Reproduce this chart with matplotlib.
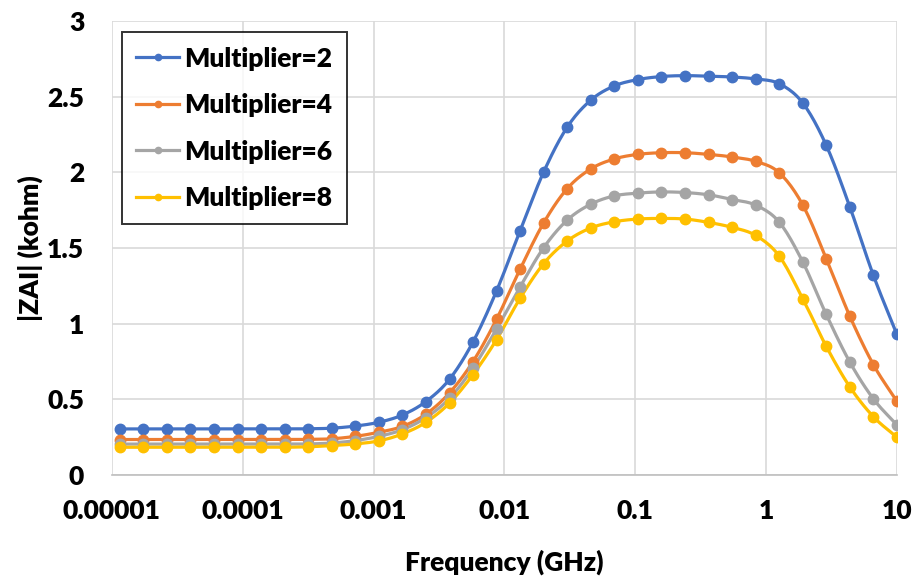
import numpy as np
import matplotlib
matplotlib.use("Agg")
import matplotlib.pyplot as plt
from matplotlib.ticker import FixedLocator, FixedFormatter, NullLocator

plt.rcParams['font.family'] = ['Lato', 'DejaVu Sans']
plt.rcParams['font.weight'] = 'heavy'

# frecuencias (GHz)
freq = [1.148e-5, 1.738e-5, 2.630e-5, 3.981e-5, 6.026e-5, 9.120e-5,
        1.380e-4, 2.089e-4, 3.162e-4, 4.786e-4, 7.244e-4,
        1.096e-3, 1.660e-3, 2.512e-3, 3.802e-3, 5.754e-3, 8.710e-3,
        0.01318, 0.01995, 0.0302, 0.0457, 0.0692,
        0.1047, 0.1585, 0.2399, 0.3631, 0.5495, 0.8318,
        1.259, 1.905, 2.884, 4.365, 6.607, 10.0]

m2 = [0.305, 0.305, 0.305, 0.305, 0.305, 0.305, 0.305, 0.305, 0.306, 0.310, 0.324,
      0.349, 0.397, 0.486, 0.633, 0.880, 1.217, 1.614, 2.002, 2.298, 2.476, 2.570,
      2.612, 2.632, 2.638, 2.634, 2.629, 2.616, 2.585, 2.458, 2.178, 1.772, 1.320, 0.929]
m4 = [0.235, 0.235, 0.235, 0.235, 0.235, 0.235, 0.235, 0.235, 0.236, 0.240, 0.256,
      0.283, 0.322, 0.403, 0.543, 0.750, 1.030, 1.360, 1.666, 1.892, 2.022, 2.088,
      2.118, 2.129, 2.129, 2.118, 2.101, 2.072, 1.997, 1.785, 1.430, 1.050, 0.730, 0.487]
m6 = [0.205, 0.205, 0.205, 0.205, 0.205, 0.205, 0.205, 0.205, 0.206, 0.212, 0.228,
      0.256, 0.300, 0.380, 0.507, 0.708, 0.965, 1.243, 1.502, 1.684, 1.789, 1.844,
      1.862, 1.870, 1.866, 1.851, 1.820, 1.783, 1.671, 1.409, 1.061, 0.747, 0.504, 0.331]
m8 = [0.184, 0.184, 0.184, 0.184, 0.184, 0.184, 0.184, 0.184, 0.187, 0.195, 0.206,
      0.226, 0.272, 0.349, 0.476, 0.664, 0.895, 1.168, 1.397, 1.546, 1.632, 1.673,
      1.691, 1.695, 1.691, 1.669, 1.636, 1.583, 1.447, 1.166, 0.850, 0.583, 0.386, 0.250]

series = [("Multiplier=2", m2, "#4472C4"),
          ("Multiplier=4", m4, "#ED7D31"),
          ("Multiplier=6", m6, "#A5A5A5"),
          ("Multiplier=8", m8, "#FFC000")]

x_ticks = [1e-5, 1e-4, 1e-3, 1e-2, 1e-1, 1, 10]
x_labels = ["0.00001", "0.0001", "0.001", "0.01", "0.1", "1", "10"]
y_ticks = [0, 0.5, 1, 1.5, 2, 2.5, 3]
y_labels = ["0", "0.5", "1", "1.5", "2", "2.5", "3"]


def suavizar(x, y, n=12):
    # curva tipo Excel (Catmull-Rom) en escala log
    lx = np.log10(x)
    y = np.asarray(y, float)
    px = np.concatenate([[2 * lx[0] - lx[1]], lx, [2 * lx[-1] - lx[-2]]])
    py = np.concatenate([[2 * y[0] - y[1]], y, [2 * y[-1] - y[-2]]])
    xs, ys = [], []
    t = np.linspace(0, 1, n, endpoint=False)
    for i in range(1, len(px) - 2):
        for p, out in ((px, xs), (py, ys)):
            p0, p1, p2, p3 = p[i - 1], p[i], p[i + 1], p[i + 2]
            out.extend(0.5 * (2 * p1 + (-p0 + p2) * t + (2 * p0 - 5 * p1 + 4 * p2 - p3) * t ** 2
                              + (-p0 + 3 * p1 - 3 * p2 + p3) * t ** 3))
    xs.append(lx[-1])
    ys.append(y[-1])
    return 10 ** np.array(xs), np.array(ys)


fig = plt.figure(figsize=(9.18, 5.78), dpi=100)
ax = fig.add_axes([0.122, 0.178, 0.855, 0.786])

for nombre, vals, color in series:
    sx, sy = suavizar(freq, vals)
    ax.plot(sx, sy, color=color, lw=2.3, zorder=3)
    ax.plot(freq, vals, 'o', color=color, ms=7.5, zorder=4)
    ax.plot([], [], '-o', color=color, lw=2.3, ms=4.5, label=nombre)

ax.set_xscale('log')
ax.set_xlim(1e-5, 10)
ax.set_ylim(0, 3)
ax.xaxis.set_major_locator(FixedLocator(x_ticks))
ax.xaxis.set_major_formatter(FixedFormatter(x_labels))
ax.xaxis.set_minor_locator(NullLocator())
ax.yaxis.set_major_locator(FixedLocator(y_ticks))
ax.yaxis.set_major_formatter(FixedFormatter(y_labels))
ax.tick_params(length=0, labelsize=19, pad=17)
ax.tick_params(axis='y', pad=20)
ax.grid(True, color='#D9D9D9', lw=1.2)
ax.set_axisbelow(True)
for s in ['top', 'right', 'left']:
    ax.spines[s].set_visible(False)
ax.spines['bottom'].set_color('#BFBFBF')
ax.spines['bottom'].set_linewidth(1.2)

ax.set_xlabel('Frequency (GHz)', fontsize=19, fontweight='heavy', labelpad=19)
ax.set_ylabel('|ZAI| (kohm)', fontsize=19, fontweight='heavy', labelpad=3)

leg = ax.legend(loc='upper left', bbox_to_anchor=(0.0127, 0.975), borderaxespad=0,
                fontsize=19, frameon=True, fancybox=False, handlelength=1.6,
                handletextpad=0.2, labelspacing=0.85, borderpad=0.55)
leg.get_frame().set_edgecolor('black')
leg.get_frame().set_linewidth(1.4)
for t in leg.get_texts():
    t.set_fontweight('heavy')

fig.savefig('out.png', dpi=100)
